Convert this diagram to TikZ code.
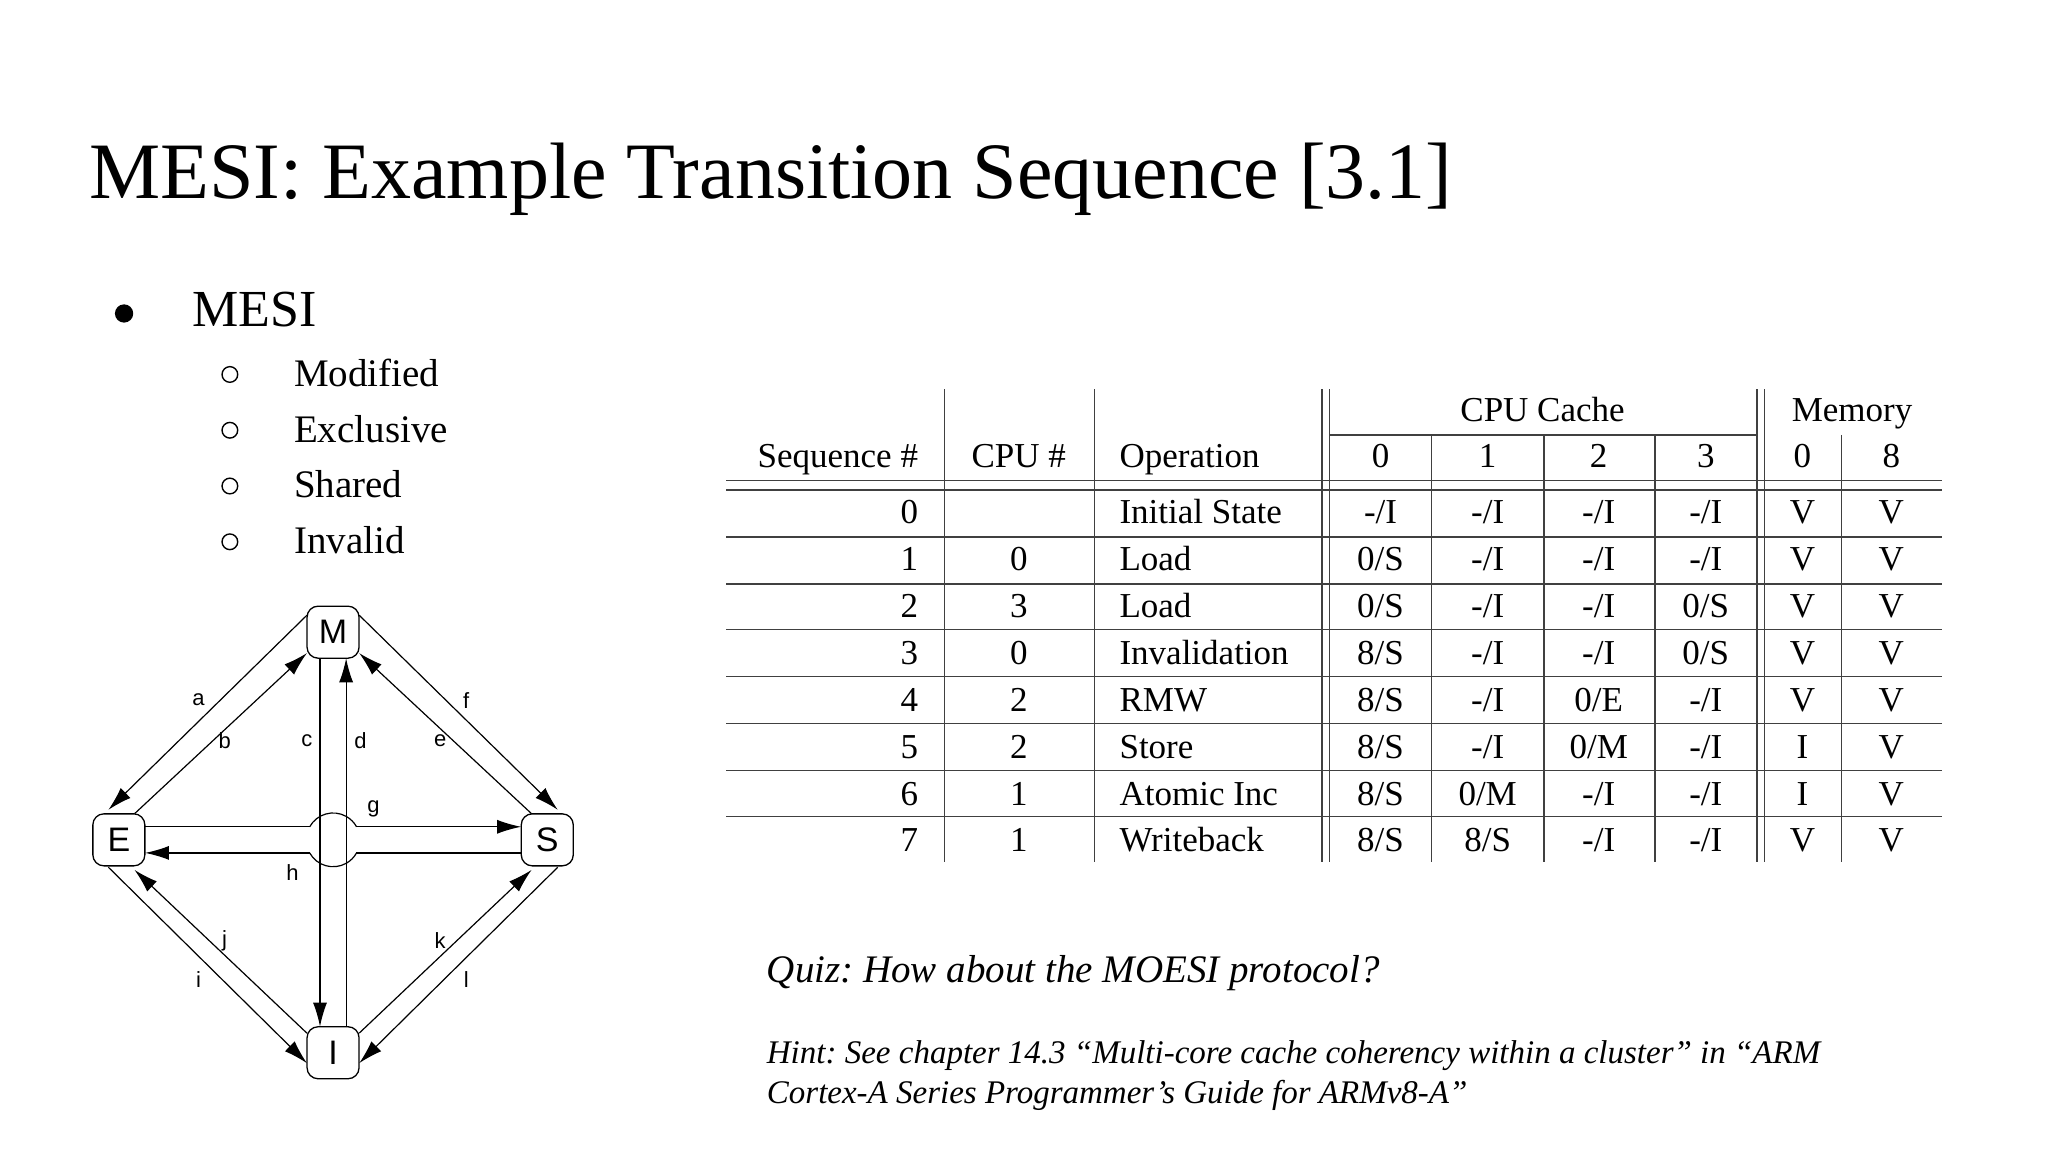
\documentclass[tikz,border=0pt]{standalone}
\usepackage{fontspec}
\setmainfont{Liberation Serif}
\newfontfamily\diafont{Liberation Sans}
\usetikzlibrary{arrows.meta,calc}
\frenchspacing
\begin{document}
\begin{tikzpicture}[x=1.30612pt,y=-1.30612pt,
  st/.style={draw,line width=1.3pt,rounded corners=11pt,minimum width=52pt,minimum height=52pt,inner sep=0pt,font=\diafont\fontsize{34}{34}\selectfont},
  ar/.style={line width=1.2pt,-{Latex[length=24pt,width=14pt]}},
  pl/.style={line width=1.2pt},
  lab/.style={font=\diafont\fontsize{22}{22}\selectfont,inner sep=0pt},
  tl/.style={line width=1.6pt,draw=black!75},
  tt/.style={font=\fontsize{35}{35}\selectfont,inner sep=0pt,anchor=base}]
\useasboundingbox (0,0) rectangle (1568,882);
% title
\node[anchor=base west,inner sep=0pt,font=\fontsize{80}{80}\selectfont] (title) at (68,152) {MESI: Example Transition Sequence [3.1]};
% bullets
\fill (95,240) circle (7);
\node[anchor=base west,inner sep=0pt,font=\fontsize{52}{52}\selectfont] (b0) at (147,250) {MESI};
\foreach \t [count=\i] in {Modified,Exclusive,Shared,Invalid}{
  \draw[line width=1.4pt] (176,{253+42.7*\i-9}) circle (6);
  \node[anchor=base west,inner sep=0pt,font=\fontsize{39}{39}\selectfont] (s\i) at (225,{253+42.7*\i}) {\t};
}
% state diagram
\node[st] (M) at (255,484) {M};
\node[st] (E) at (91,643) {E};
\node[st] (S) at (419,643) {S};
\node[st] (I) at (255,806) {I};
\draw[ar] ($(M)+(-20,-13)$) -- ($(E)+(-8,-23)$);
\draw[ar] ($(E)+(12,-20)$) -- ($(M)+(-20,16)$);
\draw[ar] ($(M)+(20,-13)$) -- ($(S)+(8,-23)$);
\draw[ar] ($(S)+(-12,-20)$) -- ($(M)+(20,16)$);
\draw[ar] ($(E)+(-8,21)$) -- ($(I)+(-20,8)$);
\draw[ar] ($(I)+(-20,-15)$) -- ($(E)+(12,23)$);
\draw[ar] ($(I)+(20,-15)$) -- ($(S)+(-12,23)$);
\draw[ar] ($(S)+(8,21)$) -- ($(I)+(20,8)$);
\draw[ar] ($(M)+(-10,20)$) -- ($(I)+(-10,-20)$);
\draw[ar] ($(I)+(10,-20)$) -- ($(M)+(10,20)$);
\coordinate (C) at (255,643);
\draw[pl] ($(C)+(-17.9,-10)$) arc[start angle=151,end angle=29,radius=26.8pt];
\draw[pl] ($(C)+(-17.9,10)$) arc[start angle=209,end angle=331,radius=26.8pt];
\draw[pl] ($(E)+(20,-10)$) -- ($(C)+(-17.9,-10)$);
\draw[ar] ($(C)+(17.9,-10)$) -- ($(S)+(-20,-10)$);
\draw[pl] ($(S)+(-20,10)$) -- ($(C)+(17.9,10)$);
\draw[ar] ($(C)+(-17.9,10)$) -- ($(E)+(20,10)$);
\foreach \n/\p in {a/{152,536},b/{172,567},c/{235,567},d/{276,567},e/{337,567},f/{357,536},g/{286,619},h/{224,668},j/{172,720},i/{152,750},k/{337,720},l/{357,750}}
  \node[lab] (l\n) at (\p) {\n};
% table
\foreach \x in {723,838,1012,1018,1345,1351} \draw[tl] (\x,298) -- (\x,660);
\foreach \x in {1096,1182,1267,1410} \draw[tl] (\x,333) -- (\x,660);
\draw[tl] (1018,333) -- (1345,333);
\foreach \y in {368,375,411,447,482,518,554,590,625} \draw[tl] (556,\y) -- (1487,\y);
\node[tt,anchor=base east] (h1) at (703,358) {Sequence \#};
\node[tt] (h2) at (780,358) {CPU \#};
\node[tt,anchor=base west] (h3) at (857,358) {Operation};
\node[tt] (h4) at (1181,323) {CPU Cache};
\node[tt] (h5) at (1418,323) {Memory};
\foreach \t/\x in {0/1057,1/1139,2/1224,3/1306,0/1380,8/1448} \node[tt] at (\x,358) {\t};
\foreach \s/\c/\o/\a/\b/\cc/\d/\m/\n [count=\r from 0] in {
 0//Initial State/-\slash I/-\slash I/-\slash I/-\slash I/V/V,
 1/0/Load/0\slash S/-\slash I/-\slash I/-\slash I/V/V,
 2/3/Load/0\slash S/-\slash I/-\slash I/0\slash S/V/V,
 3/0/Invalidation/8\slash S/-\slash I/-\slash I/0\slash S/V/V,
 4/2/RMW/8\slash S/-\slash I/0\slash E/-\slash I/V/V,
 5/2/Store/8\slash S/-\slash I/0\slash M/-\slash I/I/V,
 6/1/Atomic Inc/8\slash S/0\slash M/-\slash I/-\slash I/I/V,
 7/1/Writeback/8\slash S/8\slash S/-\slash I/-\slash I/V/V}{
  \pgfmathsetmacro{\yy}{401+35.9*\r}
  \node[tt,anchor=base east] at (703,\yy) {\s};
  \node[tt] at (780,\yy) {\c};
  \node[tt,anchor=base west] at (857,\yy) {\o};
  \node[tt] at (1057,\yy) {\a};
  \node[tt] at (1139,\yy) {\b};
  \node[tt] at (1224,\yy) {\cc};
  \node[tt] at (1306,\yy) {\d};
  \node[tt] at (1380,\yy) {\m};
  \node[tt] at (1448,\yy) {\n};
}
% quiz
\node[anchor=base west,inner sep=0pt,font=\itshape\fontsize{39}{39}\selectfont] (quiz) at (587,752) {Quiz: How about the MOESI protocol?};
\node[anchor=base west,inner sep=0pt,font=\itshape\fontsize{33}{33}\selectfont] (hint1) at (587,814) {Hint: See chapter 14.3 “Multi-core cache coherency within a cluster” in “ARM};
\node[anchor=base west,inner sep=0pt,font=\itshape\fontsize{33}{33}\selectfont] (hint2) at (587,845) {Cortex-A Series Programmer’s Guide for ARMv8-A”};
\end{tikzpicture}
\end{document}
